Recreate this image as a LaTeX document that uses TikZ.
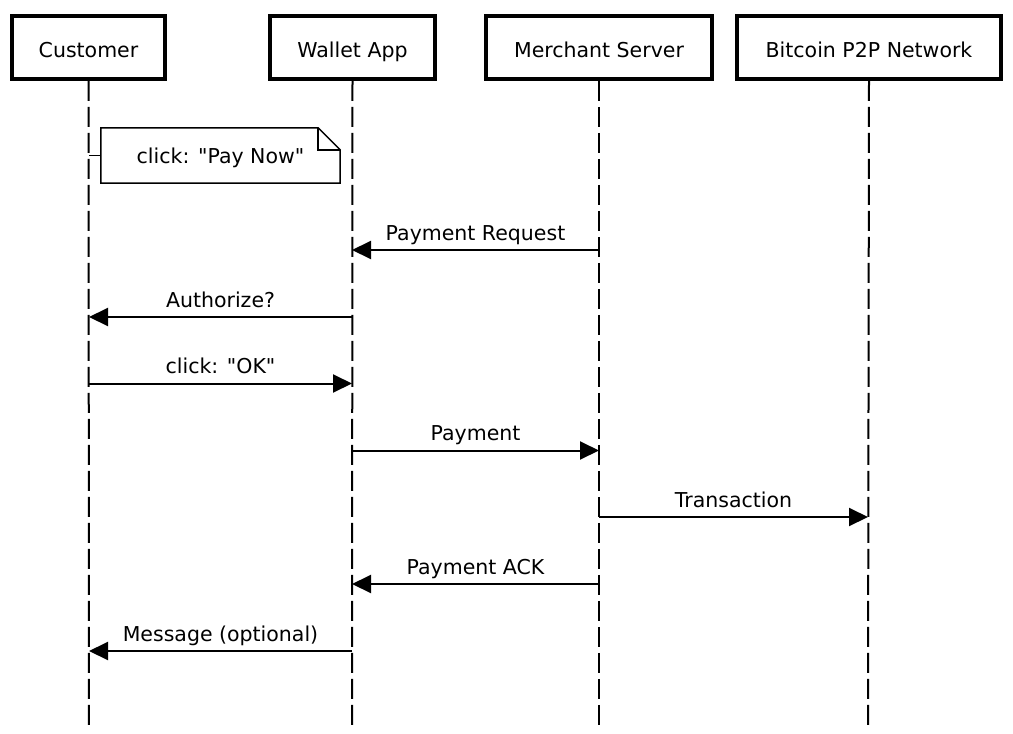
\documentclass[tikz,border=0pt]{standalone}
\usepackage{fontspec}
\setmainfont{DejaVu Sans}[Ligatures=TeXOff]
\usetikzlibrary{arrows.meta,calc}
\begin{document}
\begin{tikzpicture}[x=1pt,y=-1pt,
  every node/.style={font=\fontsize{20.5pt}{24pt}\selectfont, inner sep=0pt},
  actor/.style={draw, line width=3.5pt, minimum height=63pt, text height=19pt, text depth=0pt, anchor=center},
  life/.style={line width=2pt, dash pattern=on 20pt off 6pt},
  msg/.style={line width=2pt, -{Triangle[length=19pt,width=18pt]}},
  lbl/.style={anchor=base, yshift=10pt}
]
\useasboundingbox (0,0) rectangle (1013,734);
\fill[white] (0,0) rectangle (1013,734);
% actors
\node[actor, minimum width=153pt] (cust) at (88.5,47.5) {Customer};
\node[actor, minimum width=165pt] (wal) at (352.5,47.5) {Wallet App};
\node[actor, minimum width=226pt] (mer) at (599,47.5) {Merchant Server};
\node[actor, minimum width=264pt] (btc) at (869,47.5) {Bitcoin P2P Network};
% lifeline ends
\coordinate (custE) at (89,730);
\coordinate (walE) at (352,730);
\coordinate (merE) at (599,730);
\coordinate (btcE) at (868,730);
\draw[life] (cust.south) -- (custE);
\draw[life] (wal.south) -- (walE);
\draw[life] (mer.south) -- (merE);
\draw[life] (btc.south) -- (btcE);
% note
\node[minimum width=239pt, minimum height=55pt, text height=15pt, text depth=0pt] (note) at (220.5,155.5) {click: "Pay Now"};
\draw[line width=1.5pt] (note.north west) -- ([xshift=-22pt]note.north east) -- ([yshift=-22pt]note.north east) -- (note.south east) -- (note.south west) -- cycle;
\draw[line width=1.5pt] ([xshift=-22pt]note.north east) -- ([xshift=-22pt,yshift=-22pt]note.north east) -- ([yshift=-22pt]note.north east);
\coordinate (noteL) at (89,155.5);
\draw[line width=1.5pt] (noteL) -- (note.west);
% message coordinates
\coordinate (m1a) at (599,250); \coordinate (m1b) at (352,250);
\coordinate (m2a) at (352,317); \coordinate (m2b) at (89,317);
\coordinate (m3a) at (89,383.5); \coordinate (m3b) at (352,383.5);
\coordinate (m4a) at (352,450.5); \coordinate (m4b) at (599,450.5);
\coordinate (m5a) at (599,517); \coordinate (m5b) at (868,517);
\coordinate (m6a) at (599,584); \coordinate (m6b) at (352,584);
\coordinate (m7a) at (352,651); \coordinate (m7b) at (89,651);
\draw[msg] (m1a) -- node[lbl] {Payment Request} (m1b);
\draw[msg] (m2a) -- node[lbl] {Authorize?} (m2b);
\draw[msg] (m3a) -- node[lbl] {click: "OK"} (m3b);
\draw[msg] (m4a) -- node[lbl] {Payment} (m4b);
\draw[msg] (m5a) -- node[lbl] {Transaction} (m5b);
\draw[msg] (m6a) -- node[lbl] {Payment ACK} (m6b);
\draw[msg] (m7a) -- node[lbl] {Message (optional)} (m7b);
\end{tikzpicture}
\end{document}
